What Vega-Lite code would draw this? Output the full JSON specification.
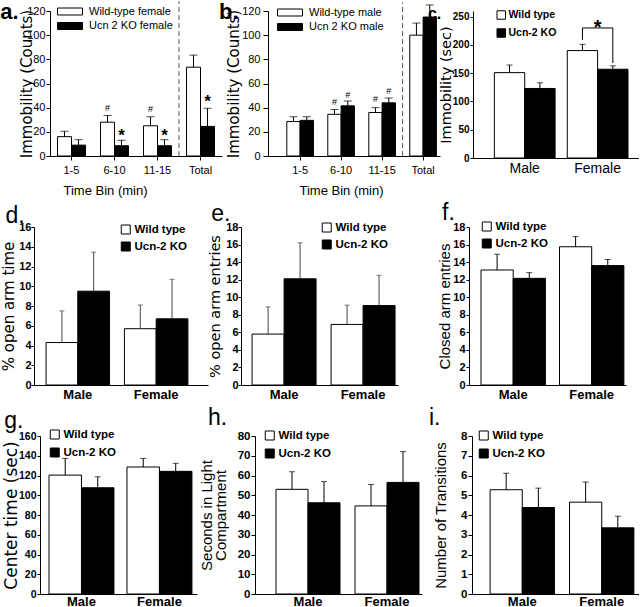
{
"$schema":"https://vega.github.io/schema/vega-lite/v6.json",
"padding":0,
"background":"white",
"config":{
 "view":{"stroke":null},
 "font":"Liberation Sans",
 "axis":{"grid":false,"domainColor":"black","tickColor":"black","labelColor":"black","titleColor":"black","labelFont":"Liberation Sans","titleFont":"Liberation Sans","titleFontWeight":"normal","labelOverlap":false},
 "axisX":{"labelAngle":0},
 "legend":{"orient":"none","symbolStrokeColor":"black","symbolStrokeWidth":1,"labelColor":"black","labelFont":"Liberation Sans","padding":0,"symbolType":"square","labelFontWeight":"bold","labelFontSize":11.5,"symbolSize":81,"clipHeight":13,"rowPadding":4,"labelOffset":3},
 "text":{"font":"Liberation Sans","color":"black"}
},
"datasets":{
 "spacer":[{}],
 "a":[
  {"cat":"1-5","group":"WT","value":16,"err":20.5},
  {"cat":"1-5","group":"KO","value":9,"err":13.5},
  {"cat":"6-10","group":"WT","value":28,"err":33.5,"ann":"#","annY":39.5},
  {"cat":"6-10","group":"KO","value":8.5,"err":13,"ann":"*","annY":21},
  {"cat":"11-15","group":"WT","value":25,"err":32.5,"ann":"#","annY":38.5},
  {"cat":"11-15","group":"KO","value":8.5,"err":13.5,"ann":"*","annY":21},
  {"cat":"Total","group":"WT","value":73.5,"err":83.5},
  {"cat":"Total","group":"KO","value":24.5,"err":39.5,"ann":"*","annY":49}
 ],
 "b":[
  {"cat":"1-5","group":"WT","value":28.5,"err":32.5},
  {"cat":"1-5","group":"KO","value":29.5,"err":32.5},
  {"cat":"6-10","group":"WT","value":34.5,"err":38.5,"ann":"#","annY":45},
  {"cat":"6-10","group":"KO","value":41.5,"err":45.5,"ann":"#","annY":50.5},
  {"cat":"11-15","group":"WT","value":36,"err":40,"ann":"#","annY":47.5},
  {"cat":"11-15","group":"KO","value":44,"err":48,"ann":"#","annY":54},
  {"cat":"Total","group":"WT","value":100,"err":110},
  {"cat":"Total","group":"KO","value":115,"err":125}
 ],
 "sep":[{"cat":"Total"}],
 "c":[
  {"cat":"Male","group":"WT","value":151,"err":164.5},
  {"cat":"Male","group":"KO","value":123,"err":133},
  {"cat":"Female","group":"WT","value":190,"err":201},
  {"cat":"Female","group":"KO","value":157,"err":163}
 ],
 "cbracket":[
  {"cat":"Female","group":"WT","y":209,"ord":1},
  {"cat":"Female","group":"WT","y":230,"ord":2},
  {"cat":"Female","group":"KO","y":230,"ord":3},
  {"cat":"Female","group":"KO","y":168,"ord":4}
 ],
 "cstar":[{"cat":"Female","y":241,"label":"*"}],
 "d":[
  {"cat":"Male","group":"WT","value":4.3,"err":7.5},
  {"cat":"Male","group":"KO","value":9.5,"err":13.45},
  {"cat":"Female","group":"WT","value":5.7,"err":8.1},
  {"cat":"Female","group":"KO","value":6.7,"err":10.7}
 ],
 "e":[
  {"cat":"Male","group":"WT","value":5.8,"err":8.9},
  {"cat":"Male","group":"KO","value":12.1,"err":16.2},
  {"cat":"Female","group":"WT","value":6.9,"err":9.1},
  {"cat":"Female","group":"KO","value":9.05,"err":12.5}
 ],
 "f":[
  {"cat":"Male","group":"WT","value":13.1,"err":14.9},
  {"cat":"Male","group":"KO","value":12.15,"err":12.8},
  {"cat":"Female","group":"WT","value":15.75,"err":16.9},
  {"cat":"Female","group":"KO","value":13.6,"err":14.3}
 ],
 "g":[
  {"cat":"Male","group":"WT","value":120.4,"err":137.3},
  {"cat":"Male","group":"KO","value":107.6,"err":118.7},
  {"cat":"Female","group":"WT","value":128.6,"err":137.3},
  {"cat":"Female","group":"KO","value":124.2,"err":132.3}
 ],
 "h":[
  {"cat":"Male","group":"WT","value":53,"err":61.9},
  {"cat":"Male","group":"KO","value":46.2,"err":56.9},
  {"cat":"Female","group":"WT","value":44.6,"err":55.5},
  {"cat":"Female","group":"KO","value":56.5,"err":72.1}
 ],
 "i":[
  {"cat":"Male","group":"WT","value":5.28,"err":6.12},
  {"cat":"Male","group":"KO","value":4.38,"err":5.36},
  {"cat":"Female","group":"WT","value":4.65,"err":5.67},
  {"cat":"Female","group":"KO","value":3.35,"err":3.94}
 ]
},
"resolve":{"scale":{"fill":"independent","xOffset":"independent"},"legend":{"fill":"independent"}},
"spacing":5,
"vconcat":[
 {"hconcat":[
  {"width":1,"height":1,"data":{"name":"spacer"},"mark":{"type":"rect","opacity":0},"encoding":{}},
  {"hconcat":[
  {"width":172,"height":145,"data":{"name":"a"},
   "layer":[
    {"mark":{"type":"bar","stroke":"black","strokeWidth":1},
     "encoding":{
      "x":{"field":"cat","type":"nominal","sort":["1-5","6-10","11-15","Total"],"scale":{"paddingInner":0.35,"paddingOuter":0.175},"axis":{"title":"Time Bin (min)","titleX":55,"titleY":28,"labelFontSize":11,"tickSize":4,"labelPadding":4,"titleFontSize":13}},
      "xOffset":{"field":"group","sort":["WT","KO"]},
      "y":{"field":"value","type":"quantitative","scale":{"domain":[0,120]},"axis":{"title":"Immobility (Counts)","titleX":-16,"titleFont":"DejaVu Sans","values":[0,20,40,60,80,100,120],"tickSize":4,"labelFontSize":11,"labelPadding":1,"titleFontSize":15}},
      "fill":{"field":"group","type":"nominal","scale":{"domain":["WT","KO"],"range":["white","black"]},"legend":{"title":null,"legendX":7,"legendY":-5,"symbolType":"M-1,-0.28H1V0.28H-1Z","symbolSize":625,"clipHeight":11,"rowPadding":2.5,"labelFontSize":11,"labelFontWeight":"normal","labelOffset":6,"labelExpr":"datum.label==='WT'?'Wild-type female':'Ucn 2 KO female'"}}
     }},
    {"mark":{"type":"rule","color":"black"},"encoding":{"x":{"field":"cat","type":"nominal","sort":["1-5","6-10","11-15","Total"]},"xOffset":{"field":"group","sort":["WT","KO"]},"y":{"field":"value","type":"quantitative","axis":{"values":[0,20,40,60,80,100,120]}},"y2":{"field":"err"}}},
    {"mark":{"type":"tick","color":"black","size":8,"thickness":1},"encoding":{"x":{"field":"cat","type":"nominal","sort":["1-5","6-10","11-15","Total"]},"xOffset":{"field":"group","sort":["WT","KO"]},"y":{"field":"err","type":"quantitative","axis":{"values":[0,20,40,60,80,100,120]}}}},
    {"transform":[{"filter":"datum.ann==='#'"}],"mark":{"type":"text","fontSize":9,"baseline":"middle"},"encoding":{"x":{"field":"cat","type":"nominal","sort":["1-5","6-10","11-15","Total"]},"xOffset":{"field":"group","sort":["WT","KO"]},"y":{"field":"annY","type":"quantitative","axis":{"values":[0,20,40,60,80,100,120]}},"text":{"field":"ann"}}},
    {"transform":[{"filter":"datum.ann==='*'"}],"mark":{"type":"text","fontSize":17,"fontWeight":"bold","baseline":"middle","dy":5},"encoding":{"x":{"field":"cat","type":"nominal","sort":["1-5","6-10","11-15","Total"]},"xOffset":{"field":"group","sort":["WT","KO"]},"y":{"field":"annY","type":"quantitative","axis":{"values":[0,20,40,60,80,100,120]}},"text":{"field":"ann"}}},
    {"data":{"name":"sep"},"mark":{"type":"rule","color":"#555","strokeDash":[5,3]},"encoding":{"x":{"field":"cat","type":"nominal","sort":["1-5","6-10","11-15","Total"],"bandPosition":-0.27},"y":{"datum":0,"axis":{"values":[0,20,40,60,80,100,120]}},"y2":{"datum":128}}},
    {"data":{"values":[{"letter":"a."}]},"mark":{"type":"text","align":"left","baseline":"alphabetic","fontSize":22,"fontWeight":"bold"},"encoding":{"x":{"datum":"1-5","type":"nominal","bandPosition":-2.05},"y":{"datum":113.4,"type":"quantitative","axis":{"values":[0,20,40,60,80,100,120]}},"text":{"field":"letter"}}}
   ]},
  {"hconcat":[
   {"width":172,"height":145,"data":{"name":"b"},
    "layer":[
     {"mark":{"type":"bar","stroke":"black","strokeWidth":1},
      "encoding":{
       "x":{"field":"cat","type":"nominal","sort":["1-5","6-10","11-15","Total"],"scale":{"paddingInner":0.35,"paddingOuter":0.273,"align":0.84},"axis":{"title":"Time Bin (min)","titleX":73,"titleY":28,"labelFontSize":11,"tickSize":4,"labelPadding":4,"titleFontSize":13}},
       "xOffset":{"field":"group","sort":["WT","KO"]},
       "y":{"field":"value","type":"quantitative","scale":{"domain":[0,120]},"axis":{"title":"Immobility (Counts)","titleX":-27,"titleFont":"DejaVu Sans","values":[0,20,40,60,80,100,120],"tickSize":5,"labelFontSize":11,"labelPadding":3,"titleFontSize":15}},
       "fill":{"field":"group","type":"nominal","scale":{"domain":["WT","KO"],"range":["white","black"]},"legend":{"title":null,"legendX":9,"legendY":-4,"symbolType":"M-1,-0.28H1V0.28H-1Z","symbolSize":625,"clipHeight":11,"rowPadding":2.5,"labelFontSize":11,"labelFontWeight":"normal","labelOffset":6,"labelExpr":"datum.label==='WT'?'Wild-type male':'Ucn 2 KO male'"}}
      }},
     {"mark":{"type":"rule","color":"black"},"encoding":{"x":{"field":"cat","type":"nominal","sort":["1-5","6-10","11-15","Total"]},"xOffset":{"field":"group","sort":["WT","KO"]},"y":{"field":"value","type":"quantitative","axis":{"values":[0,20,40,60,80,100,120]}},"y2":{"field":"err"}}},
     {"mark":{"type":"tick","color":"black","size":8,"thickness":1},"encoding":{"x":{"field":"cat","type":"nominal","sort":["1-5","6-10","11-15","Total"]},"xOffset":{"field":"group","sort":["WT","KO"]},"y":{"field":"err","type":"quantitative","axis":{"values":[0,20,40,60,80,100,120]}}}},
     {"transform":[{"filter":"datum.ann==='#'"}],"mark":{"type":"text","fontSize":9,"baseline":"middle"},"encoding":{"x":{"field":"cat","type":"nominal","sort":["1-5","6-10","11-15","Total"]},"xOffset":{"field":"group","sort":["WT","KO"]},"y":{"field":"annY","type":"quantitative","axis":{"values":[0,20,40,60,80,100,120]}},"text":{"field":"ann"}}},
     {"data":{"name":"sep"},"mark":{"type":"rule","color":"#555","strokeDash":[5,3]},"encoding":{"x":{"field":"cat","type":"nominal","sort":["1-5","6-10","11-15","Total"],"bandPosition":-0.27},"y":{"datum":0,"axis":{"values":[0,20,40,60,80,100,120]}},"y2":{"datum":127}}},
     {"data":{"values":[{"letter":"b."}]},"mark":{"type":"text","align":"left","baseline":"alphabetic","fontSize":22,"fontWeight":"bold"},"encoding":{"x":{"datum":"1-5","type":"nominal","bandPosition":-2.54},"y":{"datum":113.4,"type":"quantitative","axis":{"values":[0,20,40,60,80,100,120]}},"text":{"field":"letter"}}}
    ]},
   {"width":166,"height":147,"data":{"name":"c"},
    "layer":[
     {"mark":{"type":"bar","stroke":"black","strokeWidth":1},
      "encoding":{
       "x":{"field":"cat","type":"nominal","sort":["Male","Female"],"scale":{"paddingInner":0.167,"paddingOuter":0.222,"align":0.66},"axis":{"title":null,"ticks":false,"labelFontSize":14,"labelPadding":3}},
       "xOffset":{"field":"group","sort":["WT","KO"]},
       "y":{"field":"value","type":"quantitative","scale":{"domain":[0,250]},"axis":{"title":"Immobility (sec)","titleX":-20,"titleFont":"DejaVu Sans","values":[0,50,100,150,200,250],"tickSize":3,"labelFontSize":10,"labelFontWeight":"bold","labelPadding":1,"titleFontSize":14.5}},
       "fill":{"field":"group","type":"nominal","scale":{"domain":["WT","KO"],"range":["white","black"]},"legend":{"title":null,"legendX":23,"legendY":-2,"symbolSize":72,"clipHeight":12,"rowPadding":6,"labelFontSize":10.5,"labelOffset":2,"labelExpr":"datum.label==='WT'?'Wild type':'Ucn-2 KO'"}}
      }},
     {"mark":{"type":"rule","color":"black"},"encoding":{"x":{"field":"cat","type":"nominal","sort":["Male","Female"]},"xOffset":{"field":"group","sort":["WT","KO"]},"y":{"field":"value","type":"quantitative","axis":{"values":[0,50,100,150,200,250]}},"y2":{"field":"err"}}},
     {"mark":{"type":"tick","color":"black","size":6,"thickness":1},"encoding":{"x":{"field":"cat","type":"nominal","sort":["Male","Female"]},"xOffset":{"field":"group","sort":["WT","KO"]},"y":{"field":"err","type":"quantitative","axis":{"values":[0,50,100,150,200,250]}}}},
     {"data":{"name":"cbracket"},"mark":{"type":"line","color":"black","strokeWidth":1},"encoding":{"x":{"field":"cat","type":"nominal","sort":["Male","Female"]},"xOffset":{"field":"group","sort":["WT","KO"]},"y":{"field":"y","type":"quantitative","axis":{"values":[0,50,100,150,200,250]}},"order":{"field":"ord"}}},
     {"data":{"name":"cstar"},"mark":{"type":"text","fontSize":20,"fontWeight":"bold","baseline":"middle","dy":6},"encoding":{"x":{"field":"cat","type":"nominal","sort":["Male","Female"]},"y":{"field":"y","type":"quantitative","axis":{"values":[0,50,100,150,200,250]}},"text":{"field":"label"}}},
     {"data":{"values":[{"letter":"c."}]},"mark":{"type":"text","align":"left","baseline":"alphabetic","fontSize":16,"fontWeight":"bold"},"encoding":{"x":{"datum":"Male","type":"nominal","bandPosition":-1.094},"y":{"datum":246.6,"type":"quantitative","axis":{"values":[0,50,100,150,200,250]}},"text":{"field":"letter"}}}
    ]}
  ],"spacing":-13,"resolve":{"scale":{"fill":"independent","xOffset":"independent"},"legend":{"fill":"independent"}}}
  ],"spacing":-3,"resolve":{"scale":{"fill":"independent","xOffset":"independent"},"legend":{"fill":"independent"}}}
 ],"spacing":-1,"resolve":{"scale":{"fill":"independent","xOffset":"independent"},"legend":{"fill":"independent"}}},
 {"vconcat":[
  {"hconcat":[
   {"width":1,"height":1,"data":{"name":"spacer"},"mark":{"type":"rect","opacity":0},"encoding":{}},
   {"hconcat":[
   {"width":174,"height":158,"data":{"name":"d"},
    "layer":[
     {"mark":{"type":"bar","stroke":"black","strokeWidth":1},
      "encoding":{
       "x":{"field":"cat","type":"nominal","sort":["Male","Female"],"scale":{"paddingInner":0.19,"paddingOuter":0.205,"align":0.375},"axis":{"title":null,"ticks":false,"labelFontSize":13,"labelFontWeight":"bold","labelPadding":3}},
       "xOffset":{"field":"group","sort":["WT","KO"]},
       "y":{"field":"value","type":"quantitative","scale":{"domain":[0,16]},"axis":{"title":"% open arm time","titleX":-18,"titleFont":"DejaVu Sans","values":[0,2,4,6,8,10,12,14,16],"tickSize":3,"labelFontSize":11,"labelFontWeight":"bold","labelPadding":0,"titleFontSize":15}},
       "fill":{"field":"group","type":"nominal","scale":{"domain":["WT","KO"],"range":["white","black"]},"legend":{"title":null,"legendX":86,"legendY":-4,"labelExpr":"datum.label==='WT'?'Wild type':'Ucn-2 KO'"}}
      }},
     {"mark":{"type":"rule","color":"#444"},"encoding":{"x":{"field":"cat","type":"nominal","sort":["Male","Female"]},"xOffset":{"field":"group","sort":["WT","KO"]},"y":{"field":"value","type":"quantitative","axis":{"values":[0,2,4,6,8,10,12,14,16]}},"y2":{"field":"err"}}},
     {"mark":{"type":"tick","color":"#444","size":5,"thickness":1},"encoding":{"x":{"field":"cat","type":"nominal","sort":["Male","Female"]},"xOffset":{"field":"group","sort":["WT","KO"]},"y":{"field":"err","type":"quantitative","axis":{"values":[0,2,4,6,8,10,12,14,16]}}}},
     {"data":{"values":[{"letter":"d."}]},"mark":{"type":"text","align":"left","baseline":"alphabetic","fontSize":23},"encoding":{"x":{"datum":"Male","type":"nominal","bandPosition":-0.64},"y":{"datum":16.4,"type":"quantitative","axis":{"values":[0,2,4,6,8,10,12,14,16]}},"text":{"field":"letter"}}}
    ]},
   {"hconcat":[
    {"width":157,"height":158,"data":{"name":"e"},
     "layer":[
      {"mark":{"type":"bar","stroke":"black","strokeWidth":1},
       "encoding":{
        "x":{"field":"cat","type":"nominal","sort":["Male","Female"],"scale":{"paddingInner":0.19,"paddingOuter":0.089,"align":0.79},"axis":{"title":null,"ticks":false,"labelFontSize":13,"labelFontWeight":"bold","labelPadding":3}},
        "xOffset":{"field":"group","sort":["WT","KO"]},
        "y":{"field":"value","type":"quantitative","scale":{"domain":[0,18]},"axis":{"title":"% open arm entries","titleX":-19,"titleFont":"DejaVu Sans","values":[0,2,4,6,8,10,12,14,16,18],"tickSize":3,"labelFontSize":11,"labelFontWeight":"bold","labelPadding":0,"titleFontSize":14.5}},
        "fill":{"field":"group","type":"nominal","scale":{"domain":["WT","KO"],"range":["white","black"]},"legend":{"title":null,"legendX":80,"legendY":-6,"labelExpr":"datum.label==='WT'?'Wild type':'Ucn-2 KO'"}}
       }},
      {"mark":{"type":"rule","color":"#444"},"encoding":{"x":{"field":"cat","type":"nominal","sort":["Male","Female"]},"xOffset":{"field":"group","sort":["WT","KO"]},"y":{"field":"value","type":"quantitative","axis":{"values":[0,2,4,6,8,10,12,14,16,18]}},"y2":{"field":"err"}}},
      {"mark":{"type":"tick","color":"#444","size":5,"thickness":1},"encoding":{"x":{"field":"cat","type":"nominal","sort":["Male","Female"]},"xOffset":{"field":"group","sort":["WT","KO"]},"y":{"field":"err","type":"quantitative","axis":{"values":[0,2,4,6,8,10,12,14,16,18]}}}},
      {"data":{"values":[{"letter":"e."}]},"mark":{"type":"text","align":"left","baseline":"alphabetic","fontSize":23},"encoding":{"x":{"datum":"Male","type":"nominal","bandPosition":-0.64},"y":{"datum":18.65,"type":"quantitative","axis":{"values":[0,2,4,6,8,10,12,14,16,18]}},"text":{"field":"letter"}}}
     ]},
    {"width":157,"height":158,"data":{"name":"f"},
     "layer":[
      {"mark":{"type":"bar","stroke":"black","strokeWidth":1},
       "encoding":{
        "x":{"field":"cat","type":"nominal","sort":["Male","Female"],"scale":{"paddingInner":0.18,"paddingOuter":0.09,"align":0.85},"axis":{"title":null,"ticks":false,"labelFontSize":13,"labelFontWeight":"bold","labelPadding":3}},
        "xOffset":{"field":"group","sort":["WT","KO"]},
        "y":{"field":"value","type":"quantitative","scale":{"domain":[0,18]},"axis":{"title":"Closed arm entries","titleX":-17,"values":[0,2,4,6,8,10,12,14,16,18],"tickSize":3,"labelFontSize":11,"labelFontWeight":"bold","labelPadding":1,"titleFontSize":15}},
        "fill":{"field":"group","type":"nominal","scale":{"domain":["WT","KO"],"range":["white","black"]},"legend":{"title":null,"legendX":12,"legendY":-7,"labelExpr":"datum.label==='WT'?'Wild type':'Ucn-2 KO'"}}
       }},
      {"mark":{"type":"rule","color":"black"},"encoding":{"x":{"field":"cat","type":"nominal","sort":["Male","Female"]},"xOffset":{"field":"group","sort":["WT","KO"]},"y":{"field":"value","type":"quantitative","axis":{"values":[0,2,4,6,8,10,12,14,16,18]}},"y2":{"field":"err"}}},
      {"mark":{"type":"tick","color":"black","size":6,"thickness":1},"encoding":{"x":{"field":"cat","type":"nominal","sort":["Male","Female"]},"xOffset":{"field":"group","sort":["WT","KO"]},"y":{"field":"err","type":"quantitative","axis":{"values":[0,2,4,6,8,10,12,14,16,18]}}}},
      {"data":{"values":[{"letter":"f."}]},"mark":{"type":"text","align":"left","baseline":"alphabetic","fontSize":23},"encoding":{"x":{"datum":"Male","type":"nominal","bandPosition":-0.606},"y":{"datum":18.76,"type":"quantitative","axis":{"values":[0,2,4,6,8,10,12,14,16,18]}},"text":{"field":"letter"}}}
     ]}
   ],"spacing":38,"resolve":{"scale":{"fill":"independent","xOffset":"independent"},"legend":{"fill":"independent"}}}
   ],"spacing":-2,"resolve":{"scale":{"fill":"independent","xOffset":"independent"},"legend":{"fill":"independent"}}}
  ],"spacing":-1,"resolve":{"scale":{"fill":"independent","xOffset":"independent"},"legend":{"fill":"independent"}}},
  {"hconcat":[
   {"width":1,"height":1,"data":{"name":"spacer"},"mark":{"type":"rect","opacity":0},"encoding":{}},
   {"hconcat":[
   {"width":157,"height":158,"data":{"name":"g"},
    "layer":[
     {"mark":{"type":"bar","stroke":"black","strokeWidth":1},
      "encoding":{
       "x":{"field":"cat","type":"nominal","sort":["Male","Female"],"scale":{"paddingInner":0.167,"paddingOuter":0.09,"align":0.64},"axis":{"title":null,"ticks":false,"labelFontSize":13,"labelFontWeight":"bold","labelPadding":1}},
       "xOffset":{"field":"group","sort":["WT","KO"]},
       "y":{"field":"value","type":"quantitative","scale":{"domain":[0,160]},"axis":{"title":"Center time (sec)","titleX":-20,"titleFont":"DejaVu Sans","values":[0,20,40,60,80,100,120,140,160],"tickSize":3,"labelFontSize":10.5,"labelFontWeight":"bold","labelPadding":1,"titleFontSize":17}},
       "fill":{"field":"group","type":"nominal","scale":{"domain":["WT","KO"],"range":["white","black"]},"legend":{"title":null,"legendX":9,"legendY":-8,"rowPadding":5,"labelExpr":"datum.label==='WT'?'Wild type':'Ucn-2 KO'"}}
      }},
     {"mark":{"type":"rule","color":"black"},"encoding":{"x":{"field":"cat","type":"nominal","sort":["Male","Female"]},"xOffset":{"field":"group","sort":["WT","KO"]},"y":{"field":"value","type":"quantitative","axis":{"values":[0,20,40,60,80,100,120,140,160]}},"y2":{"field":"err"}}},
     {"mark":{"type":"tick","color":"black","size":6,"thickness":1},"encoding":{"x":{"field":"cat","type":"nominal","sort":["Male","Female"]},"xOffset":{"field":"group","sort":["WT","KO"]},"y":{"field":"err","type":"quantitative","axis":{"values":[0,20,40,60,80,100,120,140,160]}}}},
     {"data":{"values":[{"letter":"g."}]},"mark":{"type":"text","align":"left","baseline":"alphabetic","fontSize":23},"encoding":{"x":{"datum":"Male","type":"nominal","bandPosition":-0.69},"y":{"datum":168.6,"type":"quantitative","axis":{"values":[0,20,40,60,80,100,120,140,160]}},"text":{"field":"letter"}}}
    ]},
   {"hconcat":[
    {"width":167,"height":158,"data":{"name":"h"},
     "layer":[
      {"mark":{"type":"bar","stroke":"black","strokeWidth":1},
       "encoding":{
        "x":{"field":"cat","type":"nominal","sort":["Male","Female"],"scale":{"paddingInner":0.19,"paddingOuter":0.152,"align":0.875},"axis":{"title":null,"ticks":false,"labelFontSize":13,"labelFontWeight":"bold","labelPadding":1}},
        "xOffset":{"field":"group","sort":["WT","KO"]},
        "y":{"field":"value","type":"quantitative","scale":{"domain":[0,80]},"axis":{"title":["Seconds in Light","Compartment"],"titleX":-41,"values":[0,10,20,30,40,50,60,70,80],"tickSize":4,"labelFontSize":11.5,"labelFontWeight":"bold","labelPadding":1,"titleFontSize":15,"titleLineHeight":14}},
        "fill":{"field":"group","type":"nominal","scale":{"domain":["WT","KO"],"range":["white","black"]},"legend":{"title":null,"legendX":9,"legendY":-7,"rowPadding":5,"labelExpr":"datum.label==='WT'?'Wild type':'Ucn-2 KO'"}}
       }},
      {"mark":{"type":"rule","color":"black"},"encoding":{"x":{"field":"cat","type":"nominal","sort":["Male","Female"]},"xOffset":{"field":"group","sort":["WT","KO"]},"y":{"field":"value","type":"quantitative","axis":{"values":[0,10,20,30,40,50,60,70,80]}},"y2":{"field":"err"}}},
      {"mark":{"type":"tick","color":"black","size":6,"thickness":1},"encoding":{"x":{"field":"cat","type":"nominal","sort":["Male","Female"]},"xOffset":{"field":"group","sort":["WT","KO"]},"y":{"field":"err","type":"quantitative","axis":{"values":[0,10,20,30,40,50,60,70,80]}}}},
      {"data":{"values":[{"letter":"h."}]},"mark":{"type":"text","align":"left","baseline":"alphabetic","fontSize":23},"encoding":{"x":{"datum":"Male","type":"nominal","bandPosition":-1.0625},"y":{"datum":85.7,"type":"quantitative","axis":{"values":[0,10,20,30,40,50,60,70,80]}},"text":{"field":"letter"}}}
     ]},
    {"width":167,"height":158,"data":{"name":"i"},
     "layer":[
      {"mark":{"type":"bar","stroke":"black","strokeWidth":1},
       "encoding":{
        "x":{"field":"cat","type":"nominal","sort":["Male","Female"],"scale":{"paddingInner":0.19,"paddingOuter":0.146,"align":0.78},"axis":{"title":null,"ticks":false,"labelFontSize":13,"labelFontWeight":"bold","labelPadding":1}},
        "xOffset":{"field":"group","sort":["WT","KO"]},
        "y":{"field":"value","type":"quantitative","scale":{"domain":[0,8]},"axis":{"title":"Number of Transitions","titleX":-24,"values":[0,1,2,3,4,5,6,7,8],"tickSize":4,"labelFontSize":11.5,"labelFontWeight":"bold","labelPadding":1,"titleFontSize":15}},
        "fill":{"field":"group","type":"nominal","scale":{"domain":["WT","KO"],"range":["white","black"]},"legend":{"title":null,"legendX":6,"legendY":-7,"rowPadding":5,"labelExpr":"datum.label==='WT'?'Wild type':'Ucn-2 KO'"}}
       }},
      {"mark":{"type":"rule","color":"black"},"encoding":{"x":{"field":"cat","type":"nominal","sort":["Male","Female"]},"xOffset":{"field":"group","sort":["WT","KO"]},"y":{"field":"value","type":"quantitative","axis":{"values":[0,1,2,3,4,5,6,7,8]}},"y2":{"field":"err"}}},
      {"mark":{"type":"tick","color":"black","size":6,"thickness":1},"encoding":{"x":{"field":"cat","type":"nominal","sort":["Male","Female"]},"xOffset":{"field":"group","sort":["WT","KO"]},"y":{"field":"err","type":"quantitative","axis":{"values":[0,1,2,3,4,5,6,7,8]}}}},
      {"data":{"values":[{"letter":"i."}]},"mark":{"type":"text","align":"left","baseline":"alphabetic","fontSize":23},"encoding":{"x":{"datum":"Male","type":"nominal","bandPosition":-0.95},"y":{"datum":8.56,"type":"quantitative","axis":{"values":[0,1,2,3,4,5,6,7,8]}},"text":{"field":"letter"}}}
     ]}
   ],"spacing":6,"resolve":{"scale":{"fill":"independent","xOffset":"independent"},"legend":{"fill":"independent"}}}
   ],"spacing":1,"resolve":{"scale":{"fill":"independent","xOffset":"independent"},"legend":{"fill":"independent"}}}
  ],"spacing":0,"resolve":{"scale":{"fill":"independent","xOffset":"independent"},"legend":{"fill":"independent"}}}
 ],"spacing":5,"resolve":{"scale":{"fill":"independent","xOffset":"independent"},"legend":{"fill":"independent"}}}
]
}
